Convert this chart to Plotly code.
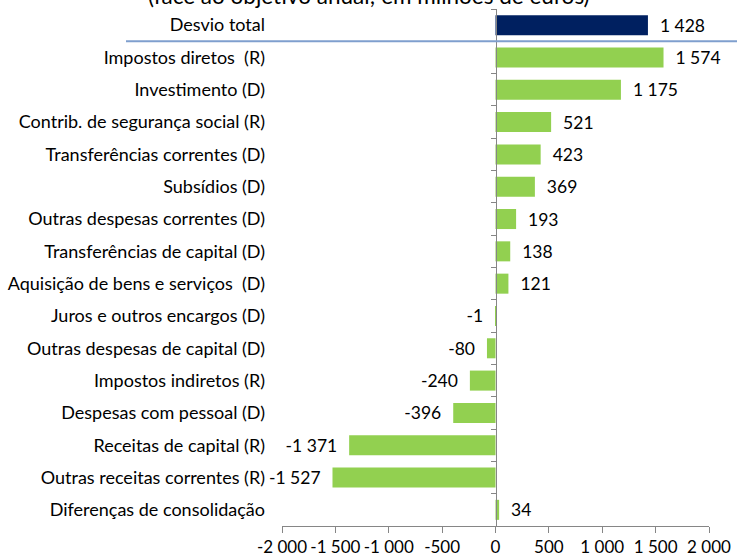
import plotly.graph_objects as go

categories = [
    "Desvio total",
    "Impostos diretos  (R)",
    "Investimento (D)",
    "Contrib. de segurança social (R)",
    "Transferências correntes (D)",
    "Subsídios (D)",
    "Outras despesas correntes (D)",
    "Transferências de capital (D)",
    "Aquisição de bens e serviços  (D)",
    "Juros e outros encargos (D)",
    "Outras despesas de capital (D)",
    "Impostos indiretos (R)",
    "Despesas com pessoal (D)",
    "Receitas de capital (R)",
    "Outras receitas correntes (R)",
    "Diferenças de consolidação",
]
values = [1428, 1574, 1175, 521, 423, 369, 193, 138, 121, -1, -80, -240, -396, -1371, -1527, 34]
x_tickvals = [-2000, -1500, -1000, -500, 0, 500, 1000, 1500, 2000]
title_text = "(face ao objetivo anual; em milhões de euros)"

FONT = "Lato"
NAVY = "#002060"
GREEN = "#92D050"
LABEL_SIZE = 18
NUM_SIZE = 17.5
TICK_SIZE = 17


def fmt(v):
    return f"{v:,}".replace(",", " ")


x_ticktext = [fmt(v) for v in x_tickvals]
texts = [("  " + fmt(v)) if v >= 0 else (fmt(v) + "  ") for v in values]
colors = [NAVY] + [GREEN] * (len(values) - 1)

fig = go.Figure()
fig.add_trace(go.Bar(
    x=values, y=categories, orientation="h",
    marker=dict(color=colors, line=dict(width=0)),
    text=texts, textposition="outside", cliponaxis=False,
    constraintext="none",
    textfont=dict(family=FONT, size=NUM_SIZE, color="#000000"),
    hoverinfo="skip", showlegend=False,
))
# invisible trace to drive the zero-position category axis (tick marks)
fig.add_trace(go.Scatter(
    x=[0] * len(categories), y=categories, yaxis="y2", mode="markers",
    marker=dict(opacity=0), hoverinfo="skip", showlegend=False,
))

L, R = 282, 28
W = 737
plot_w = W - L - R
T, B = 9, 33
H = 559
plot_h = H - T - B

fig.update_layout(
    width=W, height=H,
    margin=dict(l=L, r=R, t=T, b=B, autoexpand=False),
    paper_bgcolor="white", plot_bgcolor="white",
    bargap=0.38,
    font=dict(family=FONT, size=LABEL_SIZE, color="#000000"),
    xaxis=dict(
        range=[-2000, 2000], tickvals=x_tickvals, ticktext=x_ticktext,
        tickangle=0, showgrid=False, zeroline=False, automargin=False,
        showline=True, linecolor="#868686", linewidth=1,
        ticks="outside", ticklen=6, tickcolor="#868686",
        tickfont=dict(family=FONT, size=TICK_SIZE, color="#000000"),
        domain=[0, 1],
    ),
    yaxis=dict(
        type="category", categoryorder="array", categoryarray=categories,
        range=[len(categories) - 0.5, -0.5], automargin=False,
        showgrid=False, zeroline=False, showline=False, ticks="",
        ticklabelstandoff=16,
        tickfont=dict(family=FONT, size=LABEL_SIZE, color="#000000"),
    ),
    yaxis2=dict(
        type="category", categoryorder="array", categoryarray=categories,
        range=[len(categories) - 0.5, -0.5], automargin=False,
        overlaying="y", anchor="free", position=0.5,
        showgrid=False, zeroline=False, showticklabels=False,
        showline=True, linecolor="#868686", linewidth=1,
        ticks="outside", tickson="boundaries", ticklen=5, tickcolor="#868686",
    ),
    shapes=[dict(
        type="line", xref="paper", yref="y",
        x0=(126 - L) / plot_w, x1=(W - L) / plot_w, y0=0.5, y1=0.5,
        line=dict(color="#7F9FCE", width=2),
    )],
    annotations=[dict(
        text=title_text, xref="paper", yref="paper",
        x=(W / 2 - L) / plot_w, y=1 + (T + 5) / plot_h,
        xanchor="center", yanchor="middle", showarrow=False,
        font=dict(family=FONT, size=22.5, color="#000000"),
    )],
)

fig.write_html(
    "out.html",
    config={"displayModeBar": False},
    post_script="document.body.style.margin='0';document.body.style.overflow='hidden';",
)
